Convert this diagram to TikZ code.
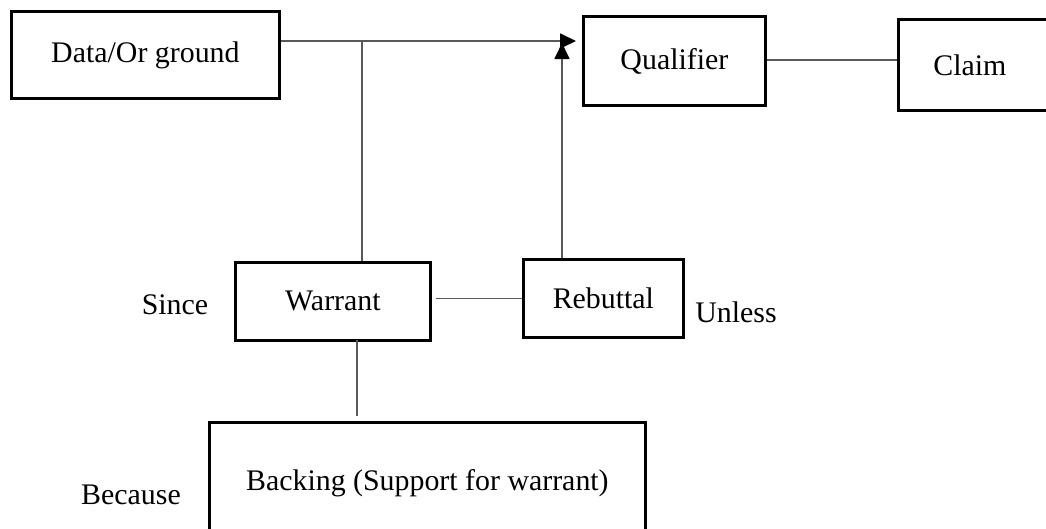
\documentclass[tikz,border=0pt]{standalone}
\usepackage{fontspec}
\setmainfont{Liberation Serif}
\usetikzlibrary{positioning,arrows.meta,calc}

\begin{document}
\begin{tikzpicture}[box/.style={draw, line width=1.6pt, align=center, inner sep=0pt, font=\fontsize{17}{20}\selectfont},
  word/.style={font=\fontsize{17}{20}\selectfont, inner sep=0pt},
  link/.style={draw=black!65, line width=1pt},
  tip/.style={-{Triangle[length=3.2mm,width=3mm,black]}}]
  \useasboundingbox (0,0) rectangle (20.92,-10.56);
  % upper row
  \node[box, minimum width=53.6mm, minimum height=17.4mm, anchor=north west] (data) at (0.2,-0.2) {Data/Or ground};
  \node[box, minimum width=36.4mm, minimum height=17.8mm, anchor=north west] (qual) at (11.64,-0.3) {Qualifier};
  \node[box, minimum height=18.2mm, anchor=north west, align=left, text width=2cm, inner xsep=7mm] (claim) at (17.94,-0.36) {Claim};
  % lower row
  \node[box, minimum width=39mm, minimum height=15.6mm, anchor=north west] (warrant) at (4.68,-5.22) {Warrant};
  \node[box, minimum width=32mm, minimum height=15.6mm, anchor=north west] (rebut) at (10.44,-5.16) {Rebuttal};
  \node[box, minimum width=87.2mm, minimum height=24.4mm, anchor=north west] (backing) at (4.16,-8.42) {Backing (Support for warrant)};
  \node[word] (since) at (3.5,-6.1) {Since};
  \node[word] (unless) at (14.72,-6.24) {Unless};
  \node[word] (because) at (2.62,-9.9) {Because};
  % connectors
  \coordinate (tipA) at (11.52,-0.82);
  \coordinate (tipB) at (11.24,-0.86);
  \coordinate (join) at (7.24,-0.82);
  \coordinate (wfoot) at (7.14,-6.8);
  \draw[link, tip] (data.east |- tipA) -- (tipA);
  \draw[link] (join) -- (join |- warrant.north);
  \draw[link, tip] (rebut.north -| tipB) -- (tipB);
  \draw[link, shorten <=0.8mm] (warrant.east |- rebut.west) -- (rebut.west);
  \draw[link, shorten >=1mm] (wfoot) -- (wfoot |- backing.north);
  \draw[link] (qual.east |- 0,-1.2) -- (claim.west |- 0,-1.2);
\end{tikzpicture}
\end{document}
